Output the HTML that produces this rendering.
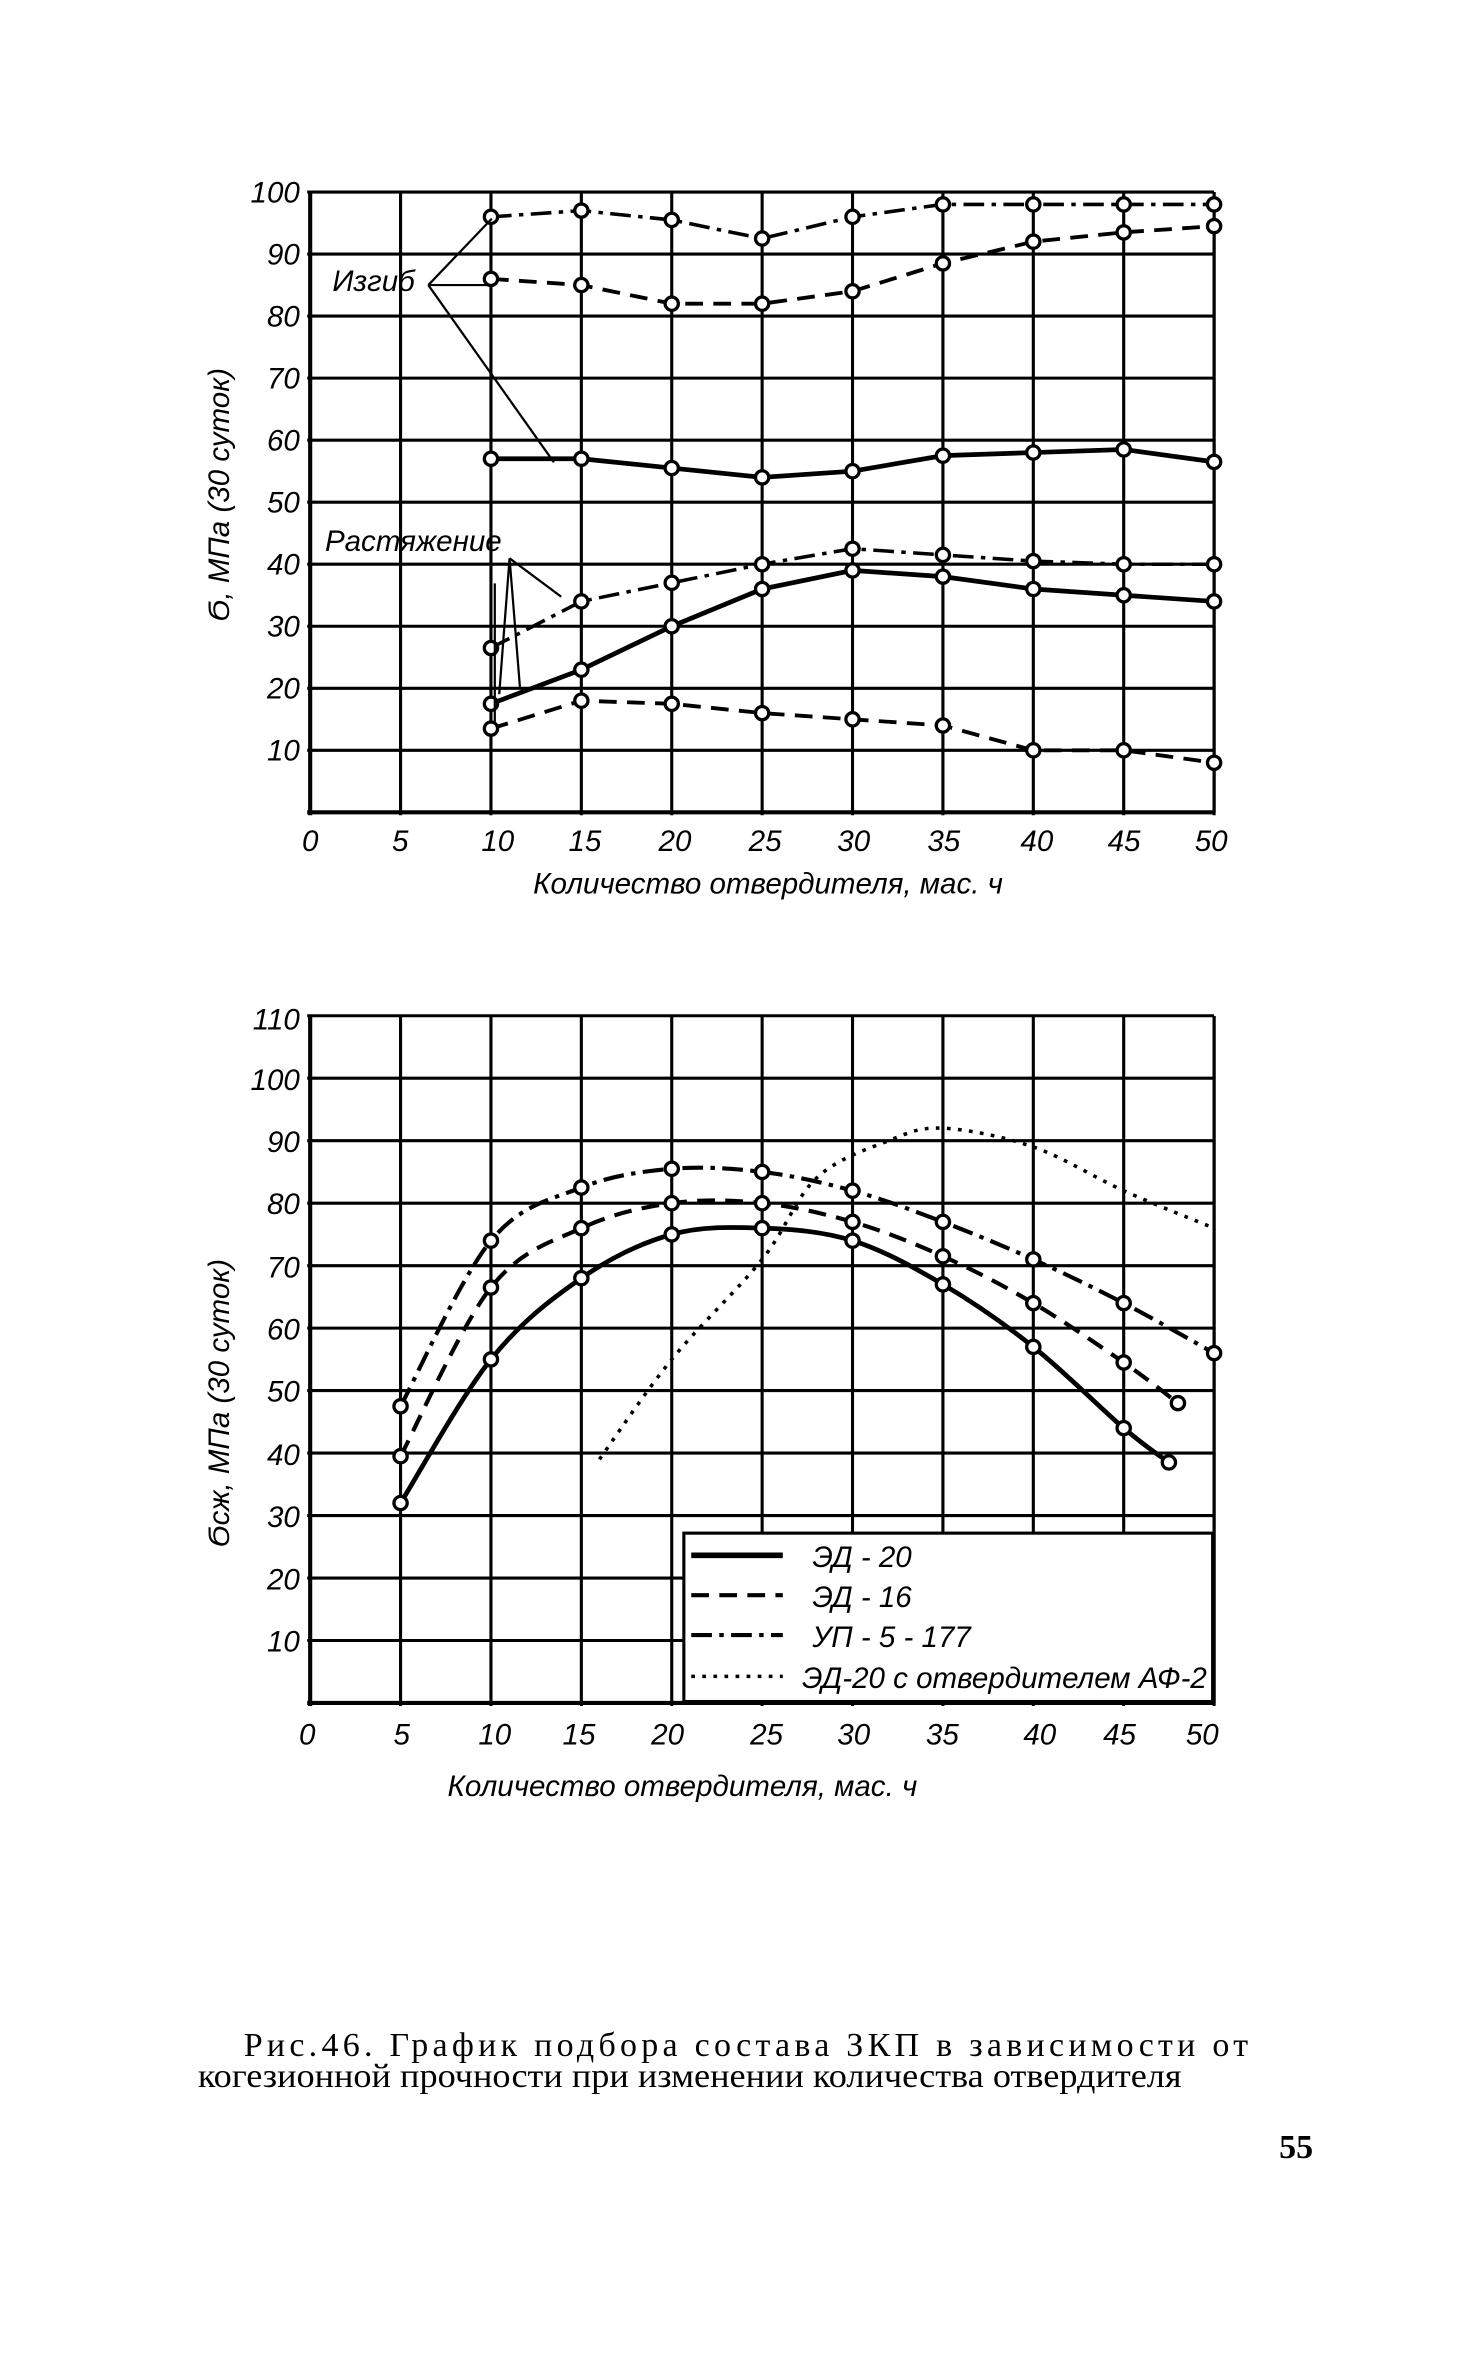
<!DOCTYPE html>
<html><head><meta charset="utf-8"><style>
html,body{margin:0;padding:0;background:#fff}
svg{display:block}
.t{font-family:"Liberation Sans","DejaVu Sans",sans-serif;font-style:italic;font-size:20px;fill:#000}
.c{font-family:"Liberation Serif","DejaVu Serif",serif;font-size:23px;fill:#000}
</style></head><body>
<svg id="s" width="1477" height="2361" viewBox="0 0 1000 1598.5" xmlns="http://www.w3.org/2000/svg">
<rect width="1000" height="1598.5" fill="#fff"/>
<g id="g1" stroke="#000" fill="none"></g>
<g class="t" text-anchor="end">
<text x="203" y="137">100</text><text x="203" y="179">90</text><text x="203" y="221">80</text><text x="203" y="263">70</text><text x="203" y="305">60</text><text x="203" y="347">50</text><text x="203" y="389">40</text><text x="203" y="431">30</text><text x="203" y="473">20</text><text x="203" y="515">10</text>
</g>
<g class="t" text-anchor="middle">
<text x="210" y="576">0</text><text x="271" y="576">5</text><text x="337" y="576">10</text><text x="396" y="576">15</text><text x="457" y="576">20</text><text x="518" y="576">25</text><text x="578" y="576">30</text><text x="639" y="576">35</text><text x="702" y="576">40</text><text x="761" y="576">45</text><text x="820" y="576">50</text>
<text x="520" y="605">Количество  отвердителя,  мас. ч</text>
</g>
<text class="t" transform="translate(155,335) rotate(-90)" text-anchor="middle">Ϭ,  МПа  (30 суток)</text>
<text class="t" x="225" y="197">Изгиб</text>
<text class="t" x="220" y="373">Растяжение</text>
<g class="t" text-anchor="end">
<text x="203" y="697">110</text><text x="203" y="738">100</text><text x="203" y="780">90</text><text x="203" y="822">80</text><text x="203" y="865">70</text><text x="203" y="907">60</text><text x="203" y="949">50</text><text x="203" y="992">40</text><text x="203" y="1034">30</text><text x="203" y="1076">20</text><text x="203" y="1118">10</text>
</g>
<g class="t" text-anchor="middle">
<text x="208" y="1181">0</text><text x="272" y="1181">5</text><text x="335" y="1181">10</text><text x="392" y="1181">15</text><text x="452" y="1181">20</text><text x="519" y="1181">25</text><text x="578" y="1181">30</text><text x="638" y="1181">35</text><text x="704" y="1181">40</text><text x="758" y="1181">45</text><text x="814" y="1181">50</text>
<text x="462" y="1216">Количество  отвердителя,  мас. ч</text>
</g>
<text class="t" transform="translate(155,950) rotate(-90)" text-anchor="middle">Ϭсж,  МПа  (30 суток)</text>
<g class="t">
<text x="550" y="1061">ЭД - 20</text><text x="550" y="1088">ЭД - 16</text><text x="550" y="1115">УП - 5 - 177</text><text x="543" y="1143">ЭД-20 с отвердителем АФ-2</text>
</g>
<text class="c" x="165" y="1392" textLength="680" lengthAdjust="spacing">Рис.46.  График  подбора  состава  ЗКП  в  зависимости  от</text>
<text class="c" x="134" y="1413" textLength="666" lengthAdjust="spacingAndGlyphs">когезионной прочности при изменении количества отвердителя</text>
<text class="c" x="866" y="1461" font-weight="bold">55</text>
</svg>
<script>
var NS="http://www.w3.org/2000/svg",g=document.getElementById('g1');
function el(n,a){var e=document.createElementNS(NS,n);for(var k in a)e.setAttribute(k,a[k]);g.appendChild(e);return e;}
function X(v){return 210+v*12.24}
function line(x1,y1,x2,y2,w,d){el('line',{x1:x1,y1:y1,x2:x2,y2:y2,'stroke-width':w||1.6,'stroke-dasharray':d||'none'});}
function Y1(v){return 550-v*4.2}
function Y2(v){return 1153-v*4.23}
for(var i=0;i<=10;i++)line(X(i*5),130,X(i*5),552,i==0?2.8:2.1);
for(var j=1;j<=10;j++)line(208,Y1(j*10),822,Y1(j*10),2.1);
line(208,550,822,550,2.8);line(822,130,822,550,2.1);
for(var i=0;i<=10;i++)line(X(i*5),688,X(i*5),1155,i==0?2.8:2.1);
for(var j=1;j<=11;j++)line(208,Y2(j*10),822,Y2(j*10),2.1);
line(208,1153,822,1153,2.8);line(822,688,822,1153,2.1);
el('rect',{x:463,y:1038,width:358,height:114,fill:'#fff',stroke:'#000','stroke-width':2.1});
function smooth(p){var d='M'+p[0][0]+','+p[0][1];for(var i=0;i<p.length-1;i++){var p0=p[i-1]||p[i],p1=p[i],p2=p[i+1],p3=p[i+2]||p2;
d+=' C'+(p1[0]+(p2[0]-p0[0])/6)+','+(p1[1]+(p2[1]-p0[1])/6)+' '+(p2[0]-(p3[0]-p1[0])/6)+','+(p2[1]-(p3[1]-p1[1])/6)+' '+p2[0]+','+p2[1];}return d;}
function series(data,Y,dash,w,mk,sm){var p=data.map(function(a){return[X(a[0]),Y(a[1])]});
if(sm)el('path',{d:smooth(p),'stroke-width':w,'stroke-dasharray':dash,fill:'none'});
else el('polyline',{points:p.join(' '),'stroke-width':w,'stroke-dasharray':dash,fill:'none'});
if(mk)p.forEach(function(q){el('circle',{cx:q[0],cy:q[1],r:4.5,fill:'#fff','stroke-width':2.2});});}
var DD='14,5,3,5',DA='12,7';
series([[10,96],[15,97],[20,95.5],[25,92.5],[30,96],[35,98],[40,98],[45,98],[50,98]],Y1,DD,2.4,1);
series([[10,86],[15,85],[20,82],[25,82],[30,84],[35,88.5],[40,92],[45,93.5],[50,94.5]],Y1,DA,2.6,1);
series([[10,57],[15,57],[20,55.5],[25,54],[30,55],[35,57.5],[40,58],[45,58.5],[50,56.5]],Y1,'none',3.2,1);
series([[10,26.5],[15,34],[20,37],[25,40],[30,42.5],[35,41.5],[40,40.5],[45,40],[50,40]],Y1,DD,2.4,1);
series([[10,17.5],[15,23],[20,30],[25,36],[30,39],[35,38],[40,36],[45,35],[50,34]],Y1,'none',3.2,1);
series([[10,13.5],[15,18],[20,17.5],[25,16],[30,15],[35,14],[40,10],[45,10],[50,8]],Y1,DA,2.6,1);
line(290,193,333,148,1.5);line(290,193,333,193,1.5);line(290,193,375,313,1.5);
line(345,378,380,404,1.5);line(345,378,352,465,1.5);line(345,378,338,470,1.5);line(335,395,335,490,1.5);
series([[5,32],[10,55],[15,68],[20,75],[25,76],[30,74],[35,67],[40,57],[45,44],[47.5,38.5]],Y2,'none',3.2,1,1);
series([[5,39.5],[10,66.5],[15,76],[20,80],[25,80],[30,77],[35,71.5],[40,64],[45,54.5],[48,48]],Y2,DA,2.8,1,1);
series([[5,47.5],[10,74],[15,82.5],[20,85.5],[25,85],[30,82],[35,77],[40,71],[45,64],[50,56]],Y2,DD,2.8,1,1);
series([[16,39],[20,55],[25,71],[28,84],[32,90],[35,92],[40,89],[45,82],[50,76]],Y2,'2.5,5',2.4,0,1);
line(468,1053,530,1053,3.8);line(470,1053,528,1053,1.2);
el('line',{x1:468,y1:1080,x2:530,y2:1080,'stroke-width':2.8,'stroke-dasharray':'12,7'});
el('line',{x1:468,y1:1107,x2:530,y2:1107,'stroke-width':2.8,'stroke-dasharray':'14,5,3,5'});
el('line',{x1:468,y1:1135,x2:530,y2:1135,'stroke-width':2.4,'stroke-dasharray':'2.5,5'});
</script>
</body></html>
